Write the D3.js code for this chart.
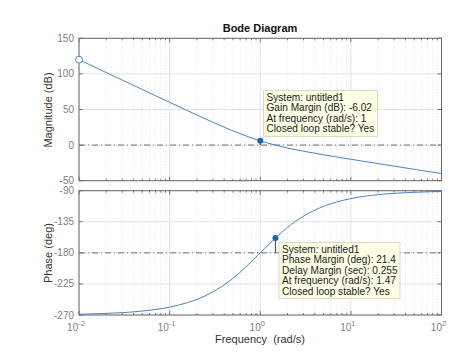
<!DOCTYPE html>
<html>
<head>
<meta charset="utf-8">
<script src="https://cdn.jsdelivr.net/npm/d3@7"></script>
<style>
  body { margin: 0; background: #fff; }
  svg { font-family: "Liberation Sans", Arial, sans-serif; }
</style>
</head>
<body>
<div id="chart"></div>
<script>
// frequency points (rad/s)
var freqs = [0.01, 0.02, 0.03, 0.05, 0.07, 0.1, 0.15, 0.2, 0.3, 0.5, 0.7, 1, 1.47, 2, 3, 5, 7, 10, 20, 30, 50, 70, 100]
// magnitude (dB)
var magDb = [120.0, 101.9, 91.4, 78.1, 69.3, 60.1, 49.6, 42.3, 32.1, 20.0, 12.8, 6.02, 0, -4.1, -8.6, -13.6, -16.7, -19.9, -26.0, -29.5, -34.0, -36.9, -40.0]
// phase (deg)
var phaseDeg = [-268.9, -267.7, -266.6, -264.3, -262.0, -258.6, -252.9, -247.4, -236.6, -216.9, -200.0, -180, -158.6, -143.1, -126.9, -112.6, -106.3, -101.4, -95.7, -93.8, -92.3, -91.6, -90.9]

var magTicks = [150, 100, 50, 0, -50]
var phaseTicks = [-90, -135, -180, -225, -270]
var decadeTicks = [0.01, 0.1, 1, 10, 100]

var gainTip = ["System: untitled1", "Gain Margin (dB): -6.02", "At frequency (rad/s): 1", "Closed loop stable? Yes"]
var phaseTip = ["System: untitled1", "Phase Margin (deg): 21.4", "Delay Margin (sec): 0.255", "At frequency (rad/s): 1.47", "Closed loop stable? Yes"]
var gm = {f: 1, v: 6.02}
var pm = {f: 1.47, v: -158.6}

var width = 474, height = 353
var left = 79, right = 441.5

var svg = d3.select("#chart").append("svg")
    .attr("width", width)
    .attr("height", height)

var x = d3.scaleLog().domain([0.01, 100]).range([left, right])
var yMag = d3.scaleLinear().domain([-50, 150]).range([180.7, 38.3])
var yPh = d3.scaleLinear().domain([-270, -90]).range([315, 190.7])

var lineColor = "#4686c4"
var minorTicks = []
decadeTicks.slice(0, 4).forEach(function(d) {
  for (var k = 2; k < 10; k++) minorTicks.push(d * k)
})

var pts = freqs.map(function(f, i) { return {f: f, m: magDb[i], p: phaseDeg[i]} })

function panel(y, ticks, key, refVal, showX) {
  var g = svg.append("g")
  var y0 = y.range()[0], y1 = y.range()[1]

  g.append("rect")
    .attr("x", left).attr("y", y1)
    .attr("width", right - left).attr("height", y0 - y1)
    .attr("fill", "#fff")

  // minor grid
  g.selectAll(".minor").data(minorTicks).enter().append("line")
    .attr("x1", d => x(d)).attr("x2", d => x(d))
    .attr("y1", y1).attr("y2", y0)
    .attr("stroke", "#e4e4e4").attr("stroke-dasharray", "1,2")

  // major grid
  g.selectAll(".vgrid").data(decadeTicks).enter().append("line")
    .attr("x1", d => x(d)).attr("x2", d => x(d))
    .attr("y1", y1).attr("y2", y0)
    .attr("stroke", "#e2e2e2")
  g.selectAll(".hgrid").data(ticks).enter().append("line")
    .attr("x1", left).attr("x2", right)
    .attr("y1", d => y(d)).attr("y2", d => y(d))
    .attr("stroke", "#e2e2e2")

  // reference dash-dot line
  g.append("line")
    .attr("x1", left).attr("x2", right)
    .attr("y1", y(refVal)).attr("y2", y(refVal))
    .attr("stroke", "#555").attr("stroke-width", 0.8)
    .attr("stroke-dasharray", "6,3,1,3")

  // ticks (inward) on bottom/top
  var tk = minorTicks.map(d => ({v: d, len: 2})).concat(decadeTicks.map(d => ({v: d, len: 4})))
  tk.forEach(function(t) {
    g.append("line").attr("x1", x(t.v)).attr("x2", x(t.v))
      .attr("y1", y0).attr("y2", y0 - t.len).attr("stroke", "#777")
    g.append("line").attr("x1", x(t.v)).attr("x2", x(t.v))
      .attr("y1", y1).attr("y2", y1 + t.len).attr("stroke", "#777")
  })
  ticks.forEach(function(t) {
    g.append("line").attr("x1", left).attr("x2", left + 4)
      .attr("y1", y(t)).attr("y2", y(t)).attr("stroke", "#777")
    g.append("line").attr("x1", right).attr("x2", right - 4)
      .attr("y1", y(t)).attr("y2", y(t)).attr("stroke", "#777")
  })

  g.append("rect")
    .attr("x", left).attr("y", y1)
    .attr("width", right - left).attr("height", y0 - y1)
    .attr("fill", "none").attr("stroke", "#6a6a6a").attr("stroke-width", 1)

  g.selectAll(".ylab").data(ticks).enter().append("text")
    .attr("x", left - 5).attr("y", d => y(d) + 3.5)
    .attr("text-anchor", "end")
    .attr("font-size", 10).attr("fill", "#808080")
    .text(d => d)

  // data line
  var line = d3.line()
    .x(d => x(d.f))
    .y(d => y(d[key]))
    .curve(d3.curveMonotoneX)
  g.append("path").datum(pts)
    .attr("d", line)
    .attr("fill", "none")
    .attr("stroke", lineColor)
    .attr("stroke-width", 1)

  if (showX) {
    var xl = g.selectAll(".xlab").data(decadeTicks).enter().append("text")
      .attr("x", d => x(d) - 3).attr("y", 331)
      .attr("text-anchor", "middle")
      .attr("font-size", 10).attr("fill", "#808080")
    xl.append("tspan").text("10")
    xl.append("tspan").attr("dy", -5).attr("font-size", 7.5)
      .text(d => Math.round(Math.log10(d)) < 0 ? "-" + Math.abs(Math.round(Math.log10(d))) : Math.round(Math.log10(d)))
  }
  return g
}

panel(yMag, magTicks, "m", 0, false)
panel(yPh, phaseTicks, "p", -180, true)

// start marker (open circle)
svg.append("circle")
  .attr("cx", x(freqs[0])).attr("cy", yMag(magDb[0])).attr("r", 3.5)
  .attr("fill", "#fff").attr("stroke", lineColor)

// margin markers
svg.append("line")
  .attr("x1", x(gm.f)).attr("x2", x(gm.f))
  .attr("y1", yMag(gm.v)).attr("y2", yMag(0))
  .attr("stroke", "#444")
svg.append("circle")
  .attr("cx", x(gm.f)).attr("cy", yMag(gm.v)).attr("r", 3)
  .attr("fill", "#1f66a8")

svg.append("line")
  .attr("x1", x(pm.f)).attr("x2", x(pm.f))
  .attr("y1", yPh(pm.v)).attr("y2", yPh(-180))
  .attr("stroke", "#444")
svg.append("circle")
  .attr("cx", x(pm.f)).attr("cy", yPh(pm.v)).attr("r", 3)
  .attr("fill", "#1f66a8")

function tip(lines, x0, y0, w, h) {
  var g = svg.append("g")
  g.append("rect")
    .attr("x", x0).attr("y", y0).attr("width", w).attr("height", h)
    .attr("fill", "#ffffe6").attr("stroke", "#d9d9c4")
  g.selectAll("text").data(lines).enter().append("text")
    .attr("x", x0 + 3).attr("y", (d, i) => y0 + 10.5 + i * 10.4)
    .attr("font-size", 10.1).attr("fill", "#222")
    .text(d => d)
}
tip(gainTip, 263.5, 90.5, 114, 46)
tip(phaseTip, 279, 242.5, 121, 56)

svg.append("text")
  .attr("x", 260).attr("y", 32)
  .attr("text-anchor", "middle")
  .attr("font-size", 11).attr("font-weight", "bold").attr("fill", "#111")
  .text("Bode Diagram")

svg.append("text")
  .attr("transform", "translate(52,110) rotate(-90)")
  .attr("text-anchor", "middle")
  .attr("font-size", 11).attr("fill", "#333")
  .text("Magnitude (dB)")

svg.append("text")
  .attr("transform", "translate(52,253) rotate(-90)")
  .attr("text-anchor", "middle")
  .attr("font-size", 11).attr("fill", "#333")
  .text("Phase (deg)")

svg.append("text")
  .attr("x", 260).attr("y", 343)
  .attr("text-anchor", "middle")
  .attr("font-size", 11).attr("fill", "#333")
  .attr("xml:space", "preserve")
  .text("Frequency  (rad/s)")
</script>
</body>
</html>
